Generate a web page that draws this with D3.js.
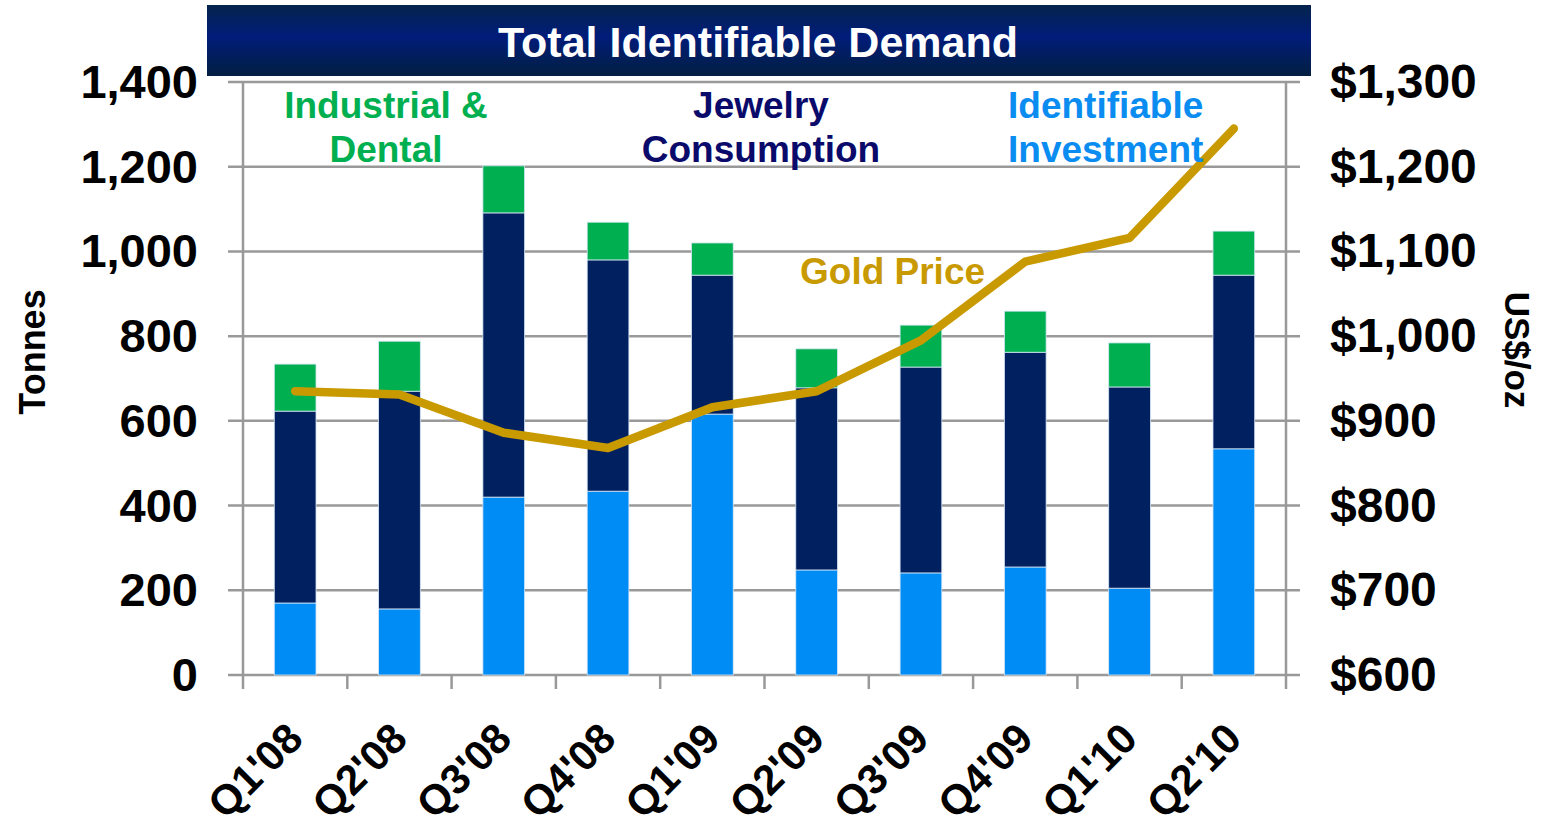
<!DOCTYPE html>
<html>
<head>
<meta charset="utf-8">
<script src="https://cdn.jsdelivr.net/npm/d3@7"></script>
<style>
  html, body { margin: 0; padding: 0; background: #fff; }
  svg { display: block; font-family: "Liberation Sans", Arial, sans-serif; }
</style>
</head>
<body>
<script>
// --- Data ---
const quarters = ["Q1'08", "Q2'08", "Q3'08", "Q4'08", "Q1'09", "Q2'09", "Q3'09", "Q4'09", "Q1'10", "Q2'10"];
const investment = [170, 156, 420, 434, 616, 248, 241, 255, 205, 534];
const jewelry    = [453, 514, 671, 546, 328, 430, 486, 507, 475, 410];
const industrial = [111, 118, 111, 89, 76, 92, 99, 97, 104, 104];
const goldPrice  = [935, 931, 886, 868, 916, 935, 995, 1088, 1116, 1245];
const leftTicks  = [0, 200, 400, 600, 800, 1000, 1200, 1400];
const rightTicks = [600, 700, 800, 900, 1000, 1100, 1200, 1300];

const W = 1545, H = 831;
const plot = {left: 243, right: 1286, top: 82, bottom: 675};

const svg = d3.select("body").append("svg")
  .attr("width", W).attr("height", H);

// --- Scales ---
const x = d3.scaleBand()
  .domain(quarters)
  .range([plot.left, plot.right])
  .paddingInner(0.6)
  .paddingOuter(0.3);

const y = d3.scaleLinear().domain([0, 1400]).range([plot.bottom, plot.top]);
const y2 = d3.scaleLinear().domain([600, 1300]).range([plot.bottom, plot.top]);

// --- Title banner ---
const defs = svg.append("defs");
const grad = defs.append("linearGradient")
  .attr("id", "banner").attr("x1", 0).attr("x2", 0).attr("y1", 0).attr("y2", 1);
grad.append("stop").attr("offset", "0%").attr("stop-color", "#04244c");
grad.append("stop").attr("offset", "45%").attr("stop-color", "#001c7a");
grad.append("stop").attr("offset", "100%").attr("stop-color", "#031f40");

svg.append("rect")
  .attr("x", 207).attr("y", 5).attr("width", 1104).attr("height", 71)
  .attr("fill", "url(#banner)");
svg.append("text")
  .attr("x", 758).attr("y", 57)
  .attr("text-anchor", "middle")
  .attr("fill", "#fff").attr("font-weight", "bold").attr("font-size", 43)
  .text("Total Identifiable Demand");

// --- Gridlines ---
const grid = "#999";
svg.append("g").selectAll("line")
  .data(leftTicks)
  .join("line")
    .attr("x1", plot.left - 15).attr("x2", plot.right + 14)
    .attr("y1", d => y(d)).attr("y2", d => y(d))
    .attr("stroke", grid).attr("stroke-width", 2.5);

// left and right axis lines
svg.append("line")
  .attr("x1", plot.left).attr("x2", plot.left)
  .attr("y1", plot.top).attr("y2", plot.bottom + 14)
  .attr("stroke", grid).attr("stroke-width", 2.5);
svg.append("line")
  .attr("x1", plot.right).attr("x2", plot.right)
  .attr("y1", plot.top).attr("y2", plot.bottom + 14)
  .attr("stroke", grid).attr("stroke-width", 2.5);

// category separator ticks under the baseline
const step = x.step();
svg.append("g").selectAll("line")
  .data(quarters.slice(1))
  .join("line")
    .attr("x1", d => x(d) - step * 0.3).attr("x2", d => x(d) - step * 0.3)
    .attr("y1", plot.bottom).attr("y2", plot.bottom + 14)
    .attr("stroke", grid).attr("stroke-width", 2.5);

// --- Stacked bars ---
const rows = quarters.map((q, i) => ({
  q, investment: investment[i], jewelry: jewelry[i], industrial: industrial[i]
}));
const stack = d3.stack().keys(["investment", "jewelry", "industrial"])(rows);
const colors = {investment: "#008cf5", jewelry: "#00205f", industrial: "#00b050"};

svg.append("g").selectAll("g")
  .data(stack)
  .join("g")
    .attr("fill", d => colors[d.key])
  .selectAll("rect")
  .data(d => d)
  .join("rect")
    .attr("x", d => x(d.data.q))
    .attr("y", d => y(d[1]))
    .attr("width", x.bandwidth())
    .attr("height", d => y(d[0]) - y(d[1]))
    .attr("stroke", "#d6e6f5").attr("stroke-width", 0.8);

// --- Gold price line ---
const line = d3.line()
  .x((d, i) => x(quarters[i]) + x.bandwidth() / 2)
  .y(d => y2(d));
svg.append("path")
  .datum(goldPrice)
  .attr("d", line)
  .attr("fill", "none")
  .attr("stroke", "#c99a00")
  .attr("stroke-width", 8.5)
  .attr("stroke-linecap", "round")
  .attr("stroke-linejoin", "round");

// --- Axis labels ---
svg.append("g").selectAll("text")
  .data(leftTicks)
  .join("text")
    .attr("x", 198).attr("y", d => y(d) + 16)
    .attr("text-anchor", "end")
    .attr("font-weight", "bold").attr("font-size", 47)
    .text(d => d3.format(",")(d));

svg.append("g").selectAll("text")
  .data(rightTicks)
  .join("text")
    .attr("x", 1330).attr("y", d => y2(d) + 16)
    .attr("font-weight", "bold").attr("font-size", 48)
    .text(d => "$" + d3.format(",")(d));

svg.append("g").selectAll("text")
  .data(quarters)
  .join("text")
    .attr("transform", d => `translate(${x(d) + x.bandwidth() / 2 + 10},${plot.bottom + 66}) rotate(-45)`)
    .attr("text-anchor", "end")
    .attr("font-weight", "bold").attr("font-size", 42)
    .text(d => d);

svg.append("text")
  .attr("transform", "translate(45,352) rotate(-90)")
  .attr("text-anchor", "middle")
  .attr("font-weight", "bold").attr("font-size", 36)
  .text("Tonnes");

svg.append("text")
  .attr("transform", "translate(1505,350) rotate(90)")
  .attr("text-anchor", "middle")
  .attr("font-weight", "bold").attr("font-size", 35)
  .text("US$/oz");

// --- Series labels inside the plot ---
const seriesLabels = [
  {lines: ["Industrial &", "Dental"], x: 386, anchor: "middle", color: "#00b050"},
  {lines: ["Jewelry", "Consumption"], x: 761, anchor: "middle", color: "#0a0a6b"},
  {lines: ["Identifiable", "Investment"], x: 1008, anchor: "start", color: "#0a8cf0"}
];
seriesLabels.forEach(s => {
  const t = svg.append("text")
    .attr("text-anchor", s.anchor)
    .attr("fill", s.color)
    .attr("font-weight", "bold").attr("font-size", 37);
  s.lines.forEach((l, i) => {
    t.append("tspan").attr("x", s.x).attr("y", 118 + i * 44).text(l);
  });
});

svg.append("text")
  .attr("x", 800).attr("y", 284)
  .attr("fill", "#c99a00")
  .attr("font-weight", "bold").attr("font-size", 37)
  .text("Gold Price");
</script>
</body>
</html>
